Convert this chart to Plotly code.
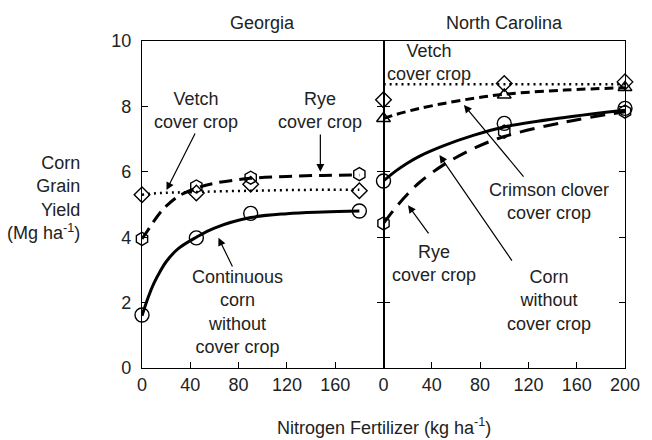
import plotly.graph_objects as go

# measured points
ga_n = [0, 45, 90, 180]
ga_vetch = [5.3, 5.35, 5.62, 5.42]
ga_rye = [3.95, 5.55, 5.82, 5.93]
ga_corn = [1.62, 3.98, 4.73, 4.8]

nc_n = [0, 100, 200]
nc_vetch = [8.2, 8.7, 8.75]
nc_clover = [7.63, 8.35, 8.58]
nc_corn = [5.72, 7.48, 7.94]
nc_rye = [4.42, 7.23, 7.84]

# fitted response curves
ga_fit_n = [0, 5, 10, 15, 20, 30, 45, 60, 90, 120, 150, 180]
ga_vetch_fit = [5.3, 5.32, 5.34, 5.35, 5.36, 5.37, 5.38, 5.4, 5.42, 5.44, 5.45, 5.45]
ga_rye_fit = [3.95, 4.22, 4.5, 4.75, 4.95, 5.25, 5.5, 5.65, 5.8, 5.86, 5.89, 5.9]
ga_corn_fit = [1.6, 2.15, 2.6, 2.95, 3.25, 3.65, 4.0, 4.28, 4.6, 4.72, 4.77, 4.8]

nc_fit_n = [0, 10, 20, 30, 50, 75, 100, 150, 200]
nc_vetch_fit = [8.68, 8.68, 8.68, 8.68, 8.68, 8.68, 8.68, 8.68, 8.68]
nc_clover_fit = [7.63, 7.75, 7.85, 7.94, 8.09, 8.25, 8.37, 8.5, 8.57]
nc_corn_fit = [5.72, 6.02, 6.27, 6.48, 6.8, 7.12, 7.37, 7.66, 7.88]
nc_rye_fit = [4.42, 4.9, 5.32, 5.68, 6.22, 6.72, 7.08, 7.52, 7.84]

FONT = "Liberation Sans, Arial, sans-serif"

fig = go.Figure()

def curve(x, y, dash, xa, width=3):
    fig.add_trace(go.Scatter(x=x, y=y, mode="lines", xaxis=xa, yaxis="y" if xa == "x" else "y2",
                             line=dict(color="black", width=width, dash=dash, shape="spline"),
                             showlegend=False, hoverinfo="skip"))

def pts(x, y, symbol, xa, size=13):
    fig.add_trace(go.Scatter(x=x, y=y, mode="markers", xaxis=xa, yaxis="y" if xa == "x" else "y2",
                             marker=dict(symbol=symbol, size=size, color="black", line=dict(width=1.4, color="black")),
                             cliponaxis=False, showlegend=False))

curve(ga_fit_n, ga_vetch_fit, "2px,4px", "x", 2.5)
curve(ga_fit_n, ga_rye_fit, "13px,7px", "x")
curve(ga_fit_n, ga_corn_fit, "solid", "x")
pts(ga_n, ga_vetch, "diamond-open", "x", 12)
pts(ga_n, ga_rye, "hexagon-open", "x")
pts(ga_n, ga_corn, "circle-open", "x", 14)

curve(nc_fit_n, nc_vetch_fit, "2px,4px", "x2", 2.5)
curve(nc_fit_n, nc_clover_fit, "9px,5px", "x2")
curve(nc_fit_n, nc_corn_fit, "solid", "x2")
curve(nc_fit_n, nc_rye_fit, "15px,9px", "x2")
pts(nc_n, nc_vetch, "diamond-open", "x2", 12)
pts(nc_n, nc_clover, "triangle-up-open", "x2", 12)
pts(nc_n, nc_corn, "circle-open", "x2", 14)
pts(nc_n, nc_rye, "hexagon-open", "x2")

ax = dict(range=[0, 200], showgrid=False, zeroline=False, showline=True, linecolor="black",
          linewidth=1.3, ticks="inside", ticklen=6, tickcolor="black", tickwidth=1.3,
          tickfont=dict(size=18, color="#222"))
fig.update_layout(
    width=652, height=440, plot_bgcolor="white", paper_bgcolor="white",
    font=dict(family=FONT, size=18, color="#222"),
    margin=dict(l=142, r=18, t=41, b=72),
    xaxis=dict(ax, domain=[0, 0.5], tickvals=[0, 40, 80, 120, 160], mirror=True, anchor="y"),
    xaxis2=dict(ax, domain=[0.5, 1], tickvals=[0, 40, 80, 120, 160, 200], mirror=True, anchor="y2"),
    yaxis=dict(ax, range=[0, 10], tickvals=[0, 2, 4, 6, 8, 10], mirror="ticks", anchor="x",
               ticklabelstandoff=6),
    yaxis2=dict(ax, range=[0, 10], tickvals=[0, 2, 4, 6, 8, 10], mirror="ticks", anchor="x2",
                showticklabels=False),
)

def label(text, x, y, xref):
    fig.add_annotation(text=text, x=x, y=y, xref=xref, yref="y", showarrow=False,
                       font=dict(size=18, color="#222"), align="center")

def arrow(x, y, ax_, ay_, xref):
    fig.add_annotation(text="", x=x, y=y, ax=ax_, ay=ay_, xref=xref, yref="y",
                       axref=xref, ayref="y", showarrow=True, arrowhead=2,
                       arrowsize=1.3, arrowwidth=1.2, arrowcolor="black")

# Georgia labels
label("Vetch<br>cover crop", 44.6, 7.89, "x")
arrow(20.3, 5.44, 44.6, 7.22, "x")
label("Rye<br>cover crop", 147.7, 7.89, "x")
arrow(147.7, 6.0, 147.7, 7.19, "x")
label("Continuous<br>corn<br>without<br>cover crop", 78.7, 1.71, "x")
arrow(63.3, 3.98, 75.5, 3.06, "x")

# North Carolina labels
label("Vetch<br>cover crop", 37.5, 9.33, "x2")
label("Crimson clover<br>cover crop", 137.3, 5.08, "x2")
arrow(66.6, 8.04, 117, 5.81, "x2")
label("Rye<br>cover crop", 42.2, 3.21, "x2")
arrow(20.3, 4.98, 38.2, 4.07, "x2")
label("Corn<br>without<br>cover crop", 137.3, 2.05, "x2")
arrow(46.3, 6.51, 107.2, 3.24, "x2")

# panel titles and axis titles
for name, xp in [("Georgia", 0.25), ("North Carolina", 0.75)]:
    fig.add_annotation(text=name, x=xp, y=1.055, xref="paper", yref="paper", showarrow=False,
                       xanchor="center", yanchor="middle", font=dict(size=18))
fig.add_annotation(text="Nitrogen Fertilizer (kg ha<sup>-1</sup>)", x=0.5, y=-0.18,
                   xref="paper", yref="paper", showarrow=False, xanchor="center", yanchor="middle",
                   font=dict(size=18))
fig.add_annotation(text="Corn<br>Grain<br>Yield<br>(Mg ha<sup>-1</sup>)", x=-0.124, y=0.52,
                   xref="paper", yref="paper", xanchor="right", yanchor="middle",
                   showarrow=False, align="right", font=dict(size=18))

fig.write_html("out.html", config={"displayModeBar": False},
               post_script="document.body.style.margin='0';")
